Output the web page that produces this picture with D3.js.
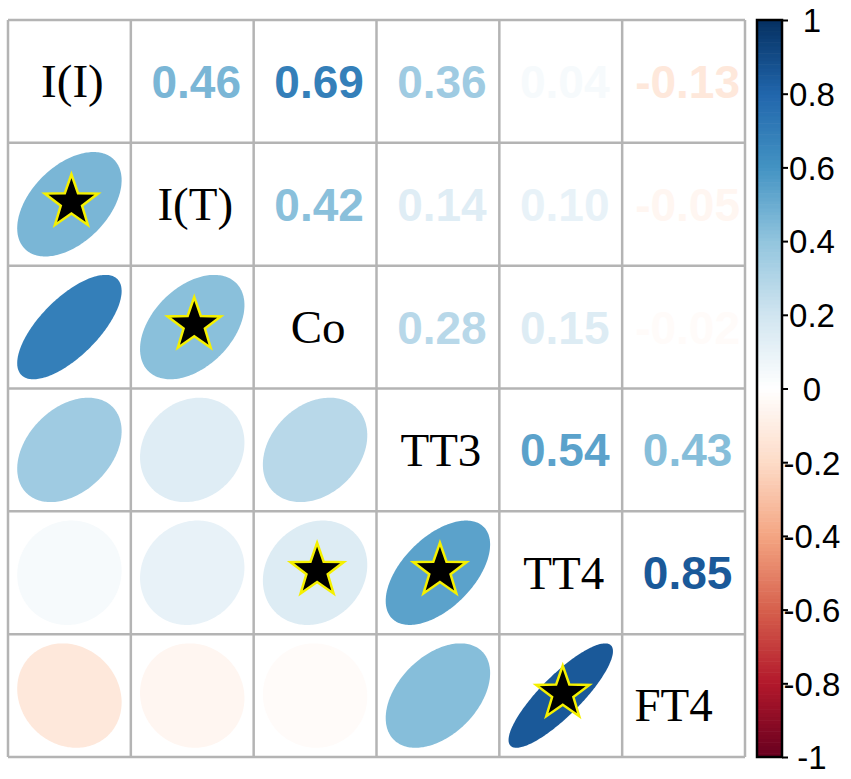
<!DOCTYPE html>
<html>
<head>
<meta charset="utf-8">
<script src="https://cdn.jsdelivr.net/npm/d3@7"></script>
<style>
  html, body { margin: 0; padding: 0; background: #fff; }
  svg { display: block; }
</style>
</head>
<body>
<div id="chart"></div>
<script>
const VARS = ['I(I)', 'I(T)', 'Co', 'TT3', 'TT4', 'FT4'];

// correlation matrix, row by row
const CORR = [
  [1.00, 0.46, 0.69, 0.36, 0.04, -0.13],
  [0.46, 1.00, 0.42, 0.14, 0.10, -0.05],
  [0.69, 0.42, 1.00, 0.28, 0.15, -0.02],
  [0.36, 0.14, 0.28, 1.00, 0.54, 0.43],
  [0.04, 0.10, 0.15, 0.54, 1.00, 0.85],
  [-0.13, -0.05, -0.02, 0.43, 0.85, 1.00],
];

// significant pairs in the lower triangle: [row, col]
const STARS = [[1, 0], [2, 1], [4, 2], [4, 3], [5, 4]];

const CB_TICKS = [1, 0.8, 0.6, 0.4, 0.2, 0, -0.2, -0.4, -0.6, -0.8, -1];
const CB_LABELS = ['1', '0.8', '0.6', '0.4', '0.2', '0', '-0.2', '-0.4', '-0.6', '-0.8', '-1'];

// RdBu palette stops from -1 to 1
const PAL_STOPS = [-1, -0.8, -0.6, -0.4, -0.2, 0, 0.2, 0.4, 0.6, 0.8, 1];
const PAL_COLORS = ['#67001F', '#B2182B', '#D6604D', '#F4A582', '#FDDBC7', '#FFFFFF',
                    '#D1E5F0', '#92C5DE', '#4393C3', '#2166AC', '#053061'];

const W = 851, H = 779;
const color = d3.scaleLinear().domain(PAL_STOPS).range(PAL_COLORS).interpolate(d3.interpolateRgb);

const svg = d3.select('#chart').append('svg').attr('width', W).attr('height', H);
svg.append('rect').attr('width', W).attr('height', H).attr('fill', '#fff');

const x = d3.scaleBand().domain(VARS).range([8, 745]);
const y = d3.scaleBand().domain(VARS).range([20, 757]);
const bw = x.bandwidth();

const cells = [];
VARS.forEach((rv, i) => VARS.forEach((cv, j) => cells.push({ i, j, r: CORR[i][j], row: rv, col: cv })));

// ellipse outline in cell units (corrplot style)
function ellipsePath(r) {
  const d = Math.acos(r);
  const k = d3.range(0, 201).map(t => t / 200 * 2 * Math.PI);
  const ex = d3.scaleLinear().domain([-0.5, 0.5]).range([-bw / 2, bw / 2]);
  const ey = d3.scaleLinear().domain([-0.5, 0.5]).range([bw / 2, -bw / 2]);
  return d3.line()
    .x(t => ex(0.85 * Math.cos(t + d / 2) / 2))
    .y(t => ey(0.85 * Math.cos(t - d / 2) / 2))(k) + 'Z';
}

const g = svg.append('g');

// lower triangle: ellipses
g.selectAll('.ell').data(cells.filter(c => c.i > c.j)).enter().append('path')
  .attr('class', 'ell')
  .attr('transform', c => `translate(${x(c.col) + bw / 2},${y(c.row) + bw / 2})`)
  .attr('d', c => ellipsePath(c.r))
  .attr('fill', c => color(c.r));

// upper triangle: numbers
g.selectAll('.num').data(cells.filter(c => c.i < c.j)).enter().append('text')
  .attr('class', 'num')
  .attr('x', c => x(c.col) + bw / 2 + 4)
  .attr('y', c => y(c.row) + bw / 2)
  .attr('dy', '0.36em')
  .attr('text-anchor', 'middle')
  .attr('font-family', '"Liberation Sans", Arial, sans-serif')
  .attr('font-weight', 'bold')
  .attr('font-size', 46)
  .attr('fill', c => color(c.r))
  .text(c => c.r.toFixed(2));

// diagonal labels
g.selectAll('.diag').data(VARS).enter().append('text')
  .attr('class', 'diag')
  .attr('x', v => x(v) + bw / 2 + (v === 'FT4' ? -10 : 3))
  .attr('y', v => y(v) + bw / 2 + (v === 'FT4' ? 9 : 0))
  .attr('dy', '0.34em')
  .attr('text-anchor', 'middle')
  .attr('font-family', '"Liberation Serif", "Times New Roman", serif')
  .attr('font-size', 47)
  .attr('fill', '#000')
  .text(v => v);

// stars
function starPath(R) {
  const pts = d3.range(10).map(i => [i % 2 === 0 ? R : R * 0.4, i * Math.PI / 5]);
  return d3.lineRadial().radius(p => p[0]).angle(p => p[1])(pts) + 'Z';
}
g.selectAll('.star').data(STARS).enter().append('path')
  .attr('class', 'star')
  .attr('transform', s => `translate(${x(VARS[s[1]]) + bw / 2 + 2},${y(VARS[s[0]]) + bw / 2 - 2})`)
  .attr('d', starPath(28))
  .attr('fill', '#000')
  .attr('stroke', '#f5f000')
  .attr('stroke-width', 2.5)
  .attr('stroke-linejoin', 'miter');

// grid
const edges = VARS.map(v => x(v)).concat([745]);
const yedges = VARS.map(v => y(v)).concat([757]);
g.selectAll('.vline').data(edges).enter().append('line')
  .attr('x1', d => d).attr('x2', d => d).attr('y1', 20).attr('y2', 757)
  .attr('stroke', '#b4b4b4').attr('stroke-width', 2.5);
g.selectAll('.hline').data(yedges).enter().append('line')
  .attr('y1', d => d).attr('y2', d => d).attr('x1', 8).attr('x2', 745)
  .attr('stroke', '#b4b4b4').attr('stroke-width', 2.5);

// colour bar
const cbY = d3.scaleLinear().domain([-1, 1]).range([757, 20]);
const cbSteps = d3.range(-1, 1, 0.01);
const cb = svg.append('g');
cb.selectAll('rect').data(cbSteps).enter().append('rect')
  .attr('x', 757).attr('width', 25)
  .attr('y', d => cbY(d + 0.01))
  .attr('height', d => cbY(d) - cbY(d + 0.01) + 0.6)
  .attr('fill', d => color(d + 0.005));
cb.append('rect').attr('x', 757).attr('y', 20).attr('width', 25).attr('height', 737)
  .attr('fill', 'none').attr('stroke', '#000').attr('stroke-width', 2.5);

const axis = cb.append('g').attr('transform', 'translate(782,0)')
  .call(d3.axisRight(cbY).tickValues(CB_TICKS).tickSize(6).tickFormat((d, i) => CB_LABELS[i]));
axis.select('.domain').remove();
axis.selectAll('.tick line').attr('stroke', '#000').attr('stroke-width', 2);
axis.selectAll('.tick text')
  .attr('x', 30).attr('text-anchor', 'middle').attr('dy', '0.36em')
  .attr('fill', '#000')
  .attr('font-family', '"Liberation Sans", Arial, sans-serif')
  .attr('font-size', 33);
</script>
</body>
</html>
